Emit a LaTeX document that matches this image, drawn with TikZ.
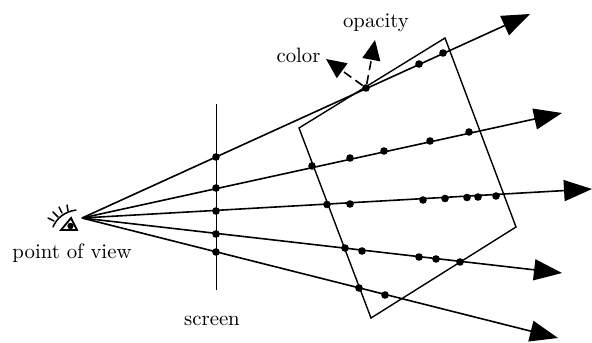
\documentclass[tikz,border=0pt]{standalone}
\usepackage{tikz}
\usetikzlibrary{positioning,arrows.meta}

\begin{document}
\begin{tikzpicture}[x=0.5pt, y=-0.5pt, every node/.style={font=\fontsize{10.4}{12}\selectfont},
  ray/.style={-{Triangle[length=14pt, width=10.5pt]}, line width=0.8pt},
  wall/.style={line width=0.7pt},
  dot/.style={circle, fill=black, inner sep=0pt, minimum size=3.8pt},
  comp/.style={-{Triangle[length=10pt, width=9pt]}, dashed, dash pattern=on 4.5pt off 2.5pt, line width=0.8pt},
  eyeline/.style={line width=0.75pt, line cap=round}]
  \useasboundingbox (0,0) rectangle (592,342);
  % volume and screen
  \draw[wall] (299,128) -- (445,38) -- (516,227) -- (371,318) -- cycle;
  \coordinate (scrtop) at (216.5,104);
  \coordinate (scrbot) at (216.5,290);
  \draw[wall] (scrtop) -- (scrbot);
  % rays
  \coordinate (eye) at (82,218);
  \coordinate (end1) at (530,14);
  \coordinate (end2) at (562,113);
  \coordinate (end3) at (592,189);
  \coordinate (end4) at (562,273);
  \coordinate (end5) at (558,338);
  \foreach \n in {1,...,5}
    \draw[ray] (eye) -- (end\n);
  % samples
  \foreach \x/\y [count=\i] in {216/157, 366/88, 419/64, 443/53,
    216/188, 312/166, 350/158, 384/151, 430/141, 469/132,
    216/211, 327/204.5, 350/204, 423/200, 445/198.5, 467/197.5, 478/197, 496/196,
    216/234, 345/248, 362/251, 419/257, 436/259, 460/262,
    216/252, 359/288, 385/295}
    \node[dot] (s\i) at (\x,\y) {};
  % color and opacity
  \node (color) at (298.5,55) {color};
  \node (opacity) at (376,23) {opacity};
  \coordinate (colortip) at (326,59);
  \coordinate (opacitytip) at (375,40);
  \draw[comp] (s2) -- (colortip);
  \draw[comp] (s2) -- (opacitytip);
  \node (pov) at (72,253) {point of view};
  \node (screen) at (212,321) {screen};
  % eye
  \draw[eyeline] (53,227) .. controls (57,218) and (64,212) .. (76,210);
  \draw[eyeline] (48,218) -- (54,221) (53,212) -- (58,217) (59,207) -- (62,213) (67,205) -- (68,211);
  \draw[eyeline, line width=0.9pt] (61,230) -- (77,230) -- (71,218) -- cycle;
  \fill (70.5,226) circle (1.6pt);
\end{tikzpicture}
\end{document}
